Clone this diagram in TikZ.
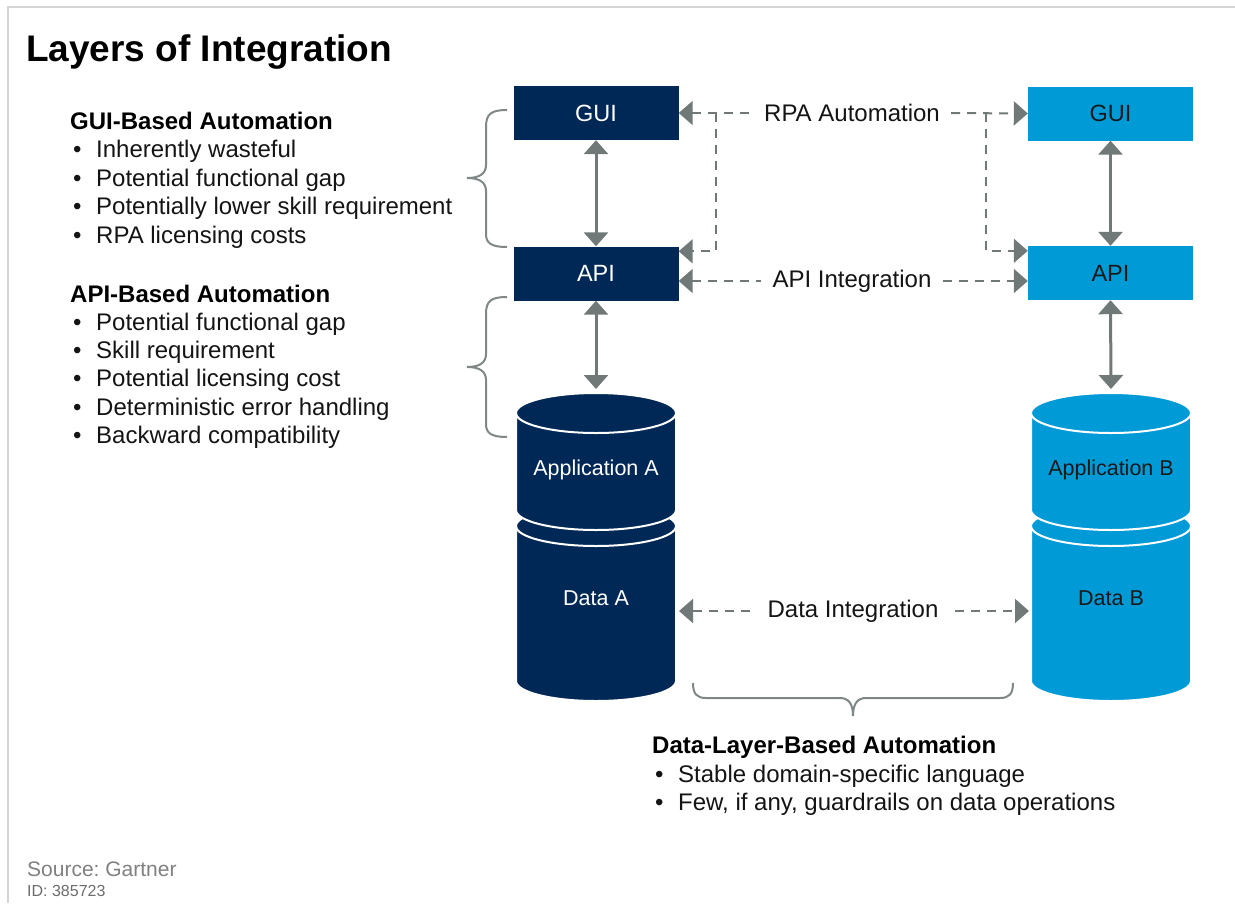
\documentclass[tikz,border=0pt]{standalone}
\usepackage{fontspec}
\setmainfont{Liberation Sans}
\usetikzlibrary{arrows.meta}
\frenchspacing

\definecolor{navy}{HTML}{002856}
\definecolor{sky}{HTML}{009AD7}
\definecolor{linkgray}{HTML}{707878}
\definecolor{bracegray}{HTML}{7F8787}
\definecolor{framegray}{HTML}{D4D4D4}
\definecolor{notegray}{HTML}{808080}

\tikzset{
  box/.style={minimum width=165pt, minimum height=54pt, inner sep=0pt,
              font=\fontsize{23.5}{27}\selectfont},
  boxA/.style={box, fill=navy, text=white},
  boxB/.style={box, fill=sky, text=black!90},
  updown/.style={draw=linkgray, line width=3pt, <->},
  dashlink/.style={draw=linkgray, line width=2pt, dash pattern=on 9pt off 7pt},
  linklabel/.style={font=\fontsize{24}{28}\selectfont, inner xsep=11pt, inner ysep=2pt, text=black!92},
  brace/.style={draw=bracegray, line width=2pt},
  body/.style={anchor=base west, inner sep=0pt, font=\fontsize{24}{28}\selectfont, text=black!92},
  heading/.style={anchor=base west, inner sep=0pt, font=\bfseries\fontsize{24}{28}\selectfont, text=black},
  cyltext/.style={font=\fontsize{21.5}{25}\selectfont, inner sep=0pt},
  cylfill/.style={draw=white, line width=2pt},
}

% one stacked segment of a cylinder: centre x, radii, top and bottom ellipse centres
\newcommand{\cylsegment}[6]{%
  \path[cylfill, fill=#6] (#1-#2,#4) -- (#1-#2,#5)
     arc[start angle=180, end angle=0, x radius=#2, y radius=#3]
     -- (#1+#2,#4)
     arc[start angle=0, end angle=-180, x radius=#2, y radius=#3] -- cycle;
  \draw[white, line width=2pt] (#1-#2,#4)
     arc[start angle=180, end angle=0, x radius=#2, y radius=#3];
}

\begin{document}
\begin{tikzpicture}[x=1pt, y=-1pt, >={Triangle[length=14pt,width=24pt]}]
\useasboundingbox (0,0) rectangle (1235,903);

% page frame
\draw[framegray, line width=2pt] (8,903) -- (8,7) -- (1235,7);

% title
\node[anchor=base west, inner sep=0pt, font=\bfseries\fontsize{37}{42}\selectfont] (title) at (26,61) {Layers of Integration};

% left notes
\node[heading] (guiHead) at (70,129) {GUI-Based Automation};
\foreach \t [count=\i] in {Inherently wasteful, Potential functional gap,
    Potentially lower skill requirement, RPA licensing costs}
  \node[body] (guiItem\i) at (73,{129+28.5*\i}) {\makebox[23pt][l]{\textbullet}\t};

\node[heading] (apiHead) at (70,302) {API-Based Automation};
\foreach \t [count=\i] in {Potential functional gap, Skill requirement,
    Potential licensing cost, Deterministic error handling, Backward compatibility}
  \node[body] (apiItem\i) at (73,{302+28.3*\i}) {\makebox[23pt][l]{\textbullet}\t};

% left braces
\draw[brace] (507,110) .. controls (491,110) and (486,114) .. (486,127) -- (486,165)
  .. controls (486,174) and (479,178) .. (467,178)
  .. controls (479,178) and (486,182) .. (486,191) -- (486,234)
  .. controls (486,243) and (491,247) .. (507,247);
\draw[brace] (507,297) .. controls (491,297) and (486,301) .. (486,314) -- (486,354)
  .. controls (486,363) and (479,367) .. (467,367)
  .. controls (479,367) and (486,371) .. (486,380) -- (486,424)
  .. controls (486,433) and (491,437) .. (507,437);

% boxes
\node[boxA] (guiA) at (596,113) {GUI};
\node[boxA] (apiA) at (596,273.5) {API};
\node[boxB] (guiB) at (1110.5,113.5) {GUI};
\node[boxB] (apiB) at (1110.5,273) {API};

% application / data stacks
\cylsegment{596}{80}{20}{526}{681}{navy}
\cylsegment{596}{80}{20}{413}{510}{navy}
\cylsegment{1111}{80}{20}{526}{681}{sky}
\cylsegment{1111}{80}{20}{413}{510}{sky}

\node[cyltext, text=white] (appA) at (596,470) {Application A};
\node[cyltext, text=white] (dataA) at (596,598) {Data A};
\node[cyltext, text=black!90] (appB) at (1111,470) {Application B};
\node[cyltext, text=black!90] (dataB) at (1111,598) {Data B};

\coordinate (cylAtop) at (596,389);
\coordinate (cylBtop) at (1111,389);
\coordinate (cylAside) at (679,611);
\coordinate (cylBside) at (1029,611);

% vertical links
\draw[updown] (guiA.south) -- (apiA.north);
\draw[updown] (apiA.south) -- (cylAtop);
\draw[updown] (guiB.south) -- (apiB.north);
\draw[updown] (apiB.south) -- (cylBtop);

% RPA automation
\node[linklabel] (rpa) at (852,113) {RPA Automation};
\coordinate (rpaL) at (716,113);
\coordinate (rpaR) at (986,113);
\draw[dashlink, <-] (guiA.east) -- (rpa.west);
\draw[dashlink, ->] (rpa.east) -- (guiB.west);
\draw[dashlink, ->] (rpaL) |- ([yshift=-5pt]apiA.north east);
\draw[dashlink, ->] (rpaR) |- ([yshift=-5pt]apiB.north west);

% API integration
\node[linklabel] (apiint) at (852,281) {API Integration};
\draw[dashlink, <-] (apiA.east |- apiint) -- (apiint.west);
\draw[dashlink, ->] (apiint.east) -- (apiB.west |- apiint);

% data integration
\node[linklabel, inner xsep=16pt] (dataint) at (853,611) {Data Integration};
\draw[dashlink, <-] (cylAside) -- (dataint.west);
\draw[dashlink, ->] (dataint.east) -- (cylBside);

% bottom brace and notes
\draw[brace] (693,683) .. controls (693,694) and (697,698) .. (706,698) -- (840,698)
  .. controls (848,698) and (853,703) .. (853,716)
  .. controls (853,703) and (858,698) .. (866,698) -- (1000,698)
  .. controls (1009,698) and (1013,694) .. (1013,683);

\node[heading] (dataHead) at (652,753) {Data-Layer-Based Automation};
\node[body] (dataItem1) at (655,782) {\makebox[23pt][l]{\textbullet}Stable domain-specific language};
\node[body] (dataItem2) at (655,810) {\makebox[23pt][l]{\textbullet}Few, if any, guardrails on data operations};

% source
\node[anchor=base west, inner sep=0pt, font=\fontsize{21}{24}\selectfont, text=notegray] (source) at (27,876) {Source: Gartner};
\node[anchor=base west, inner sep=0pt, font=\fontsize{16}{19}\selectfont, text=notegray!85!black] (docid) at (27,896) {ID: 385723};
\end{tikzpicture}
\end{document}
